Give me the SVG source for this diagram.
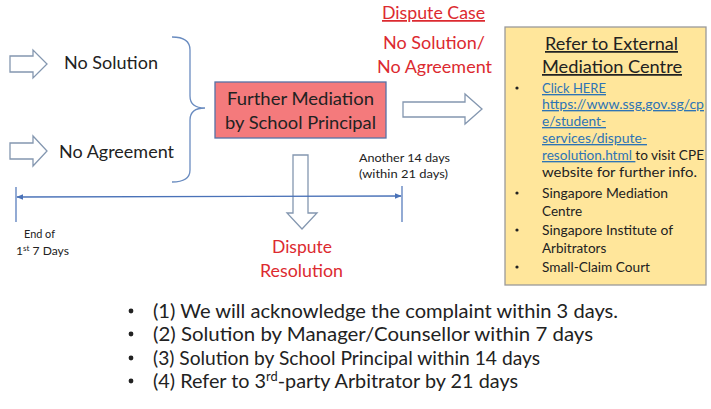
<svg xmlns="http://www.w3.org/2000/svg" width="711" height="409" viewBox="0 0 711 409">
<style>
text{font-family:Lato,"Open Sans","Liberation Sans",sans-serif;fill:#222}
.big{font-size:17.5px}
.sm{font-size:12px}
.red{fill:#dc2a30}
.lst{font-size:13.5px}
.lnk{fill:#2e74b5;text-decoration:underline}
.bot{font-size:20px}
.hol{fill:#fff;stroke:#8497b0;stroke-width:1.3}
.blu{stroke:#4a72b8;fill:none}
.bul{fill:#222}
</style>
<defs>
<marker id="ah" viewBox="0 0 10 10" refX="9" refY="5" markerWidth="7" markerHeight="7" orient="auto-start-reverse" markerUnits="userSpaceOnUse">
<path d="M0,1 L10,5 L0,9 z" fill="#4a72b8"/>
</marker>
</defs>
<rect width="711" height="409" fill="#fff"/>

<g id="no-solution">
<path class="hol" d="M10,56 L33,56 L33,50 L47,64 L33,78 L33,72 L10,72 z"/>
<text class="big" x="64" y="69" textLength="94" lengthAdjust="spacingAndGlyphs">No Solution</text>
</g>
<g id="no-agreement">
<path class="hol" d="M10,143 L33,143 L33,136 L47,151 L33,166 L33,159 L10,159 z"/>
<text class="big" x="59" y="158" textLength="115" lengthAdjust="spacingAndGlyphs">No Agreement</text>
</g>

<g id="principal">
<rect x="215" y="82" width="171" height="56" fill="#f47a7c" stroke="#5672a6" stroke-width="1.3"/>
<text class="big" x="227" y="105" textLength="147" lengthAdjust="spacingAndGlyphs">Further Mediation</text>
<text class="big" x="225" y="129" textLength="151" lengthAdjust="spacingAndGlyphs">by School Principal</text>
</g>

<g id="dispute-case">
<text class="big red" x="382" y="19" textLength="103" lengthAdjust="spacingAndGlyphs" text-decoration="underline">Dispute Case</text>
<text class="big red" x="383" y="49" textLength="102" lengthAdjust="spacingAndGlyphs">No Solution/</text>
<text class="big red" x="377" y="73" textLength="115" lengthAdjust="spacingAndGlyphs">No Agreement</text>
</g>

<g id="external">
<rect x="505" y="27" width="201" height="258" fill="#ffe69b" stroke="#9a9a9a" stroke-width="1.3"/>
<text class="big" x="545" y="50" textLength="133" lengthAdjust="spacingAndGlyphs" text-decoration="underline">Refer  to External</text>
<text class="big" x="542" y="73" textLength="140" lengthAdjust="spacingAndGlyphs" text-decoration="underline">Mediation Centre</text>
<g class="lst">
<circle class="bul" cx="517" cy="88" r="1.6"/>
<text class="lnk" x="542" y="93" textLength="64" lengthAdjust="spacingAndGlyphs">Click HERE</text>
<text class="lnk" x="542" y="109" textLength="162" lengthAdjust="spacingAndGlyphs">https://www.ssg.gov.sg/cp</text>
<text class="lnk" x="542" y="126" textLength="64" lengthAdjust="spacingAndGlyphs">e/student-</text>
<text class="lnk" x="542" y="143" textLength="105" lengthAdjust="spacingAndGlyphs">services/dispute-</text>
<text x="542" y="160" textLength="162" lengthAdjust="spacingAndGlyphs"><tspan class="lnk">resolution.html </tspan>to visit CPE</text>
<text x="542" y="177" textLength="155" lengthAdjust="spacingAndGlyphs">website for further info.</text>
<circle class="bul" cx="517" cy="193" r="1.6"/>
<text x="542" y="198" textLength="126" lengthAdjust="spacingAndGlyphs">Singapore Mediation</text>
<text x="542" y="216">Centre</text>
<circle class="bul" cx="517" cy="230" r="1.6"/>
<text x="542" y="235" textLength="131" lengthAdjust="spacingAndGlyphs">Singapore Institute of</text>
<text x="542" y="253">Arbitrators</text>
<circle class="bul" cx="517" cy="267" r="1.6"/>
<text x="542" y="272" textLength="108" lengthAdjust="spacingAndGlyphs">Small-Claim Court</text>
</g>
</g>

<g id="resolution">
<text class="big red" x="272" y="253" textLength="60" lengthAdjust="spacingAndGlyphs">Dispute</text>
<text class="big red" x="260" y="277" textLength="83" lengthAdjust="spacingAndGlyphs">Resolution</text>
</g>

<g id="timeline-labels">
<text class="sm" x="24" y="238" textLength="31" lengthAdjust="spacingAndGlyphs">End of</text>
<text class="sm" x="16" y="255" textLength="53" lengthAdjust="spacingAndGlyphs">1<tspan font-size="8" dy="-4">st</tspan><tspan dy="4"> 7 Days</tspan></text>
<text class="sm" x="359" y="162" textLength="91" lengthAdjust="spacingAndGlyphs">Another 14 days</text>
<text class="sm" x="359" y="178" textLength="89" lengthAdjust="spacingAndGlyphs">(within 21 days)</text>
</g>

<g id="summary" class="bot">
<circle class="bul" cx="131" cy="311" r="2.4"/>
<text x="153" y="318" textLength="465" lengthAdjust="spacingAndGlyphs">(1) We will acknowledge the complaint within 3 days.</text>
<circle class="bul" cx="131" cy="334" r="2.4"/>
<text x="153" y="341" textLength="440" lengthAdjust="spacingAndGlyphs">(2) Solution by Manager/Counsellor within 7 days</text>
<circle class="bul" cx="131" cy="358" r="2.4"/>
<text x="153" y="365" textLength="387" lengthAdjust="spacingAndGlyphs">(3) Solution by School Principal within 14 days</text>
<circle class="bul" cx="131" cy="381" r="2.4"/>
<text x="153" y="388" textLength="365" lengthAdjust="spacingAndGlyphs">(4) Refer to 3<tspan font-size="13" dy="-7">rd</tspan><tspan dy="7">-party Arbitrator by 21 days</tspan></text>
</g>

<g id="connectors">
<path d="M172,37 Q190,37 190,50 L190,96 Q190,108 205,108 Q190,108 190,120 L190,170 Q190,182 172,182" fill="none" stroke="#6a8cc0" stroke-width="1.3"/>
<path class="hol" d="M403,102 L465,102 L465,94 L482,109 L465,124 L465,117 L403,117 z"/>
<path class="hol" d="M293,155 L308,155 L308,213 L317,213 L302,229 L287,213 L293,213 z"/>
<line class="blu" x1="17" y1="197" x2="401" y2="196" stroke-width="1.3" marker-start="url(#ah)" marker-end="url(#ah)"/>
<line class="blu" x1="16" y1="187" x2="16" y2="222" stroke-width="1.2"/>
<line class="blu" x1="402" y1="186" x2="402" y2="222" stroke-width="1.2"/>
</g>
</svg>
